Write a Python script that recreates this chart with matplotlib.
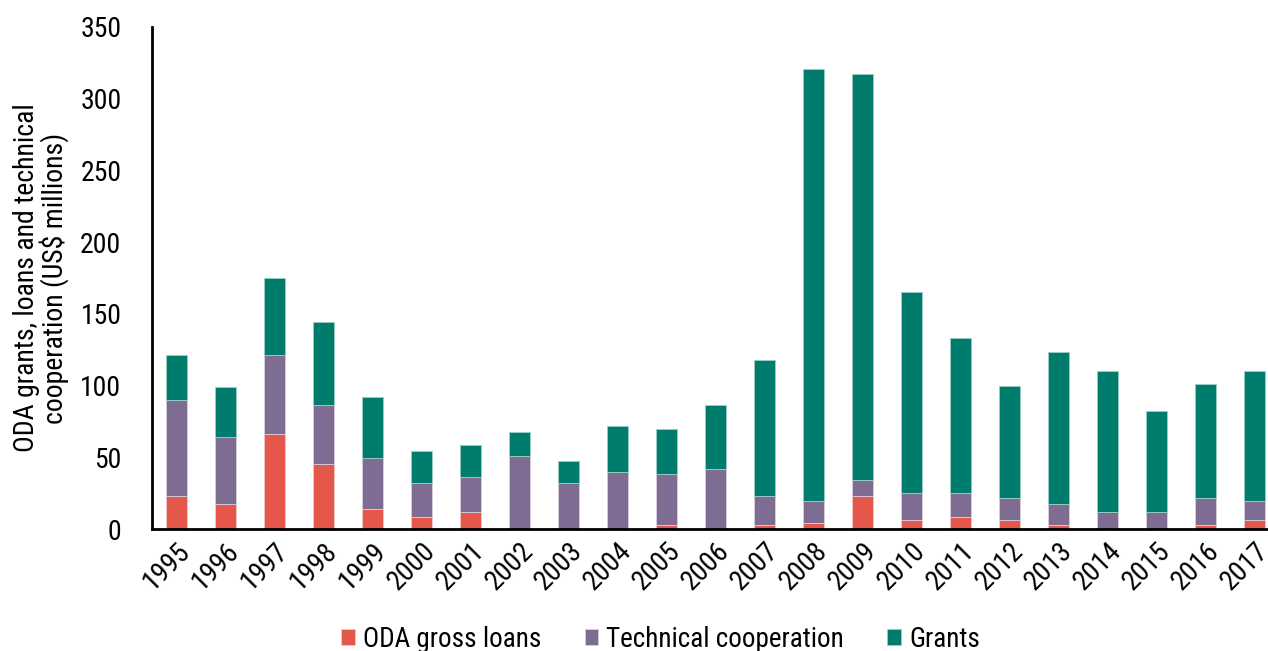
import matplotlib
matplotlib.use("Agg")
import matplotlib.pyplot as plt
from matplotlib import font_manager
import numpy as np

years = [str(y) for y in range(1995, 2018)]
totals = [121.5, 99, 175, 144, 92, 54.7, 58.4, 67.7, 47.3, 71.5, 69.6, 86.4,
          118, 320.5, 317, 165, 133, 99.4, 123.4, 110.3, 82.4, 101, 110.3]
tech_top = [89.9, 64, 121.5, 86.4, 49.4, 32.3, 36.1, 51, 32.3, 39.8, 38.2, 41.7,
            23, 19.3, 34.2, 24.9, 24.9, 21.4, 17.5, 11.9, 11.9, 21.4, 19.3]
loans = [23, 17.5, 66, 45.4, 13.7, 8.2, 11.9, 0, 0, 0, 2.6, 0,
         2.6, 4.4, 23, 6.3, 8.2, 6.3, 2.6, 0, 0, 2.6, 6.3]

tech = [t - l for t, l in zip(tech_top, loans)]
grants = [tot - t for tot, t in zip(totals, tech_top)]

labels = ["ODA gross loans", "Technical cooperation", "Grants"]
colors = ["#E5574A", "#7E6C93", "#007C6C"]

avail = {f.name for f in font_manager.fontManager.ttflist}
fam = "Liberation Sans"
for cand in ["Liberation Sans Narrow", "Roboto Condensed", "Archivo Narrow", "Barlow Semi Condensed"]:
    if cand in avail:
        fam = cand
        break
plt.rcParams['font.family'] = [fam, 'DejaVu Sans']

fig = plt.figure(figsize=(12.68, 6.51), dpi=100)
ax = fig.add_axes([152/1268, 122/651, 1116/1268, 502/651])

x = np.arange(len(years))
w = 0.42
b1 = ax.bar(x, loans, w, color=colors[0], edgecolor='#f3c9c4', linewidth=0.6, label=labels[0])
b2 = ax.bar(x, tech, w, bottom=loans, color=colors[1], edgecolor='#d8d0e0', linewidth=0.6, label=labels[1])
b3 = ax.bar(x, grants, w, bottom=tech_top, color=colors[2], edgecolor='#9ccfc6', linewidth=0.6, label=labels[2])

ax.set_xlim(-0.5, 22.28)
ax.set_ylim(0, 350)
ax.set_yticks(range(0, 351, 50))
ax.set_xticks(x)
ax.set_xticklabels(years, rotation=45, ha='right', rotation_mode='anchor')
ax.tick_params(axis='both', length=0, labelsize=20, colors='black')
ax.tick_params(axis='y', pad=22)
ax.tick_params(axis='x', pad=6)
for s in ['top', 'right']:
    ax.spines[s].set_visible(False)
for s in ['left', 'bottom']:
    ax.spines[s].set_linewidth(2)
    ax.spines[s].set_color('black')

ax.set_ylabel("ODA grants, loans and technical\ncooperation (US$ millions)", fontsize=20,
              labelpad=8, linespacing=0.95)

fig.legend(handles=[b1, b2, b3], labels=labels, loc='lower center', bbox_to_anchor=(0.521, -0.04),
           ncol=3, frameon=False, fontsize=19.5, handlelength=0.5, handleheight=0.5,
           handletextpad=0.3, columnspacing=1.6)

fig.savefig("out.png", dpi=100)
